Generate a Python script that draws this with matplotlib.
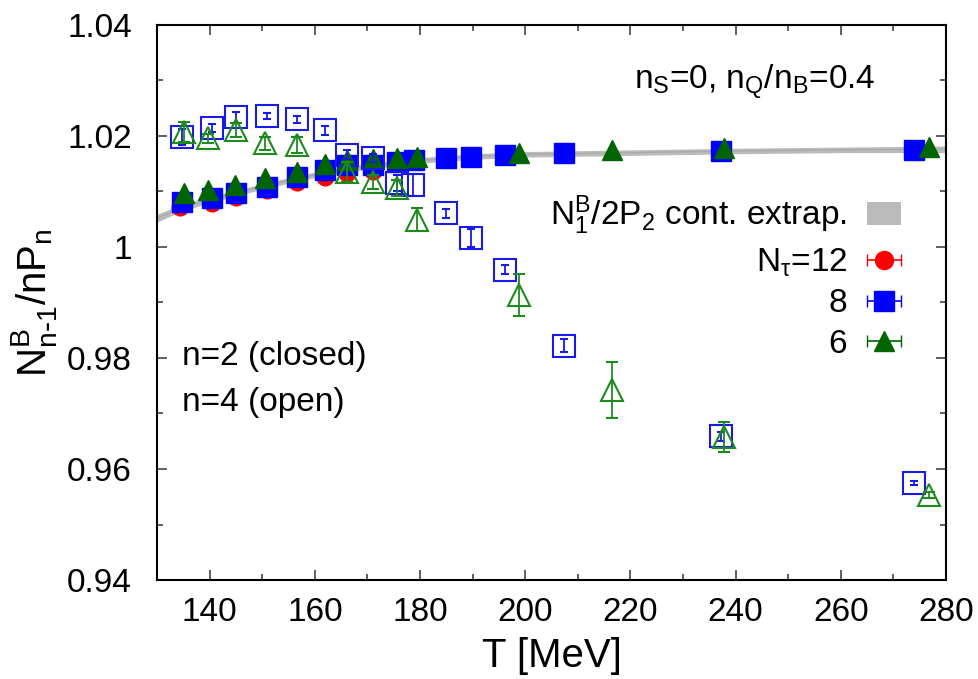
import numpy as np
import matplotlib
matplotlib.use("Agg")
import matplotlib.pyplot as plt
from matplotlib.ticker import MultipleLocator

plt.rcParams['font.family'] = ['Liberation Sans', 'DejaVu Sans']
plt.rcParams['mathtext.default'] = 'regular'

# ---- data ----
# continuum extrapolation band (N1^B / 2P2)
band_T = [130, 135, 140, 145, 150, 155, 160, 165, 170, 175, 180, 190, 200, 220, 240, 260, 280]
band_c = [1.0052, 1.0072, 1.0085, 1.0097, 1.0109, 1.0120, 1.0130, 1.0138, 1.0145, 1.0151, 1.0156,
          1.0163, 1.0167, 1.0170, 1.0173, 1.0175, 1.0176]
band_hw = [0.0007, 0.0006, 0.0006, 0.0005, 0.0005, 0.0005, 0.0005, 0.0005, 0.0005, 0.0005, 0.0005,
           0.0005, 0.0005, 0.0005, 0.0005, 0.0005, 0.0006]

# n=2 (closed symbols)
T12_n2 = [134.4, 140.5, 145.0, 151.0, 156.7, 162.0, 166.2, 171.0]
v12_n2 = [1.0072, 1.0079, 1.0090, 1.0103, 1.0117, 1.0126, 1.0133, 1.0137]

T8_n2 = [134.8, 140.5, 145.0, 151.0, 156.7, 162.0, 166.2, 171.0, 175.7, 178.8,
         184.9, 189.6, 196.1, 207.3, 237.2, 274.0]
v8_n2 = [1.0081, 1.0088, 1.0097, 1.0108, 1.0126, 1.0139, 1.0147, 1.0148, 1.0153, 1.0156,
         1.0160, 1.0163, 1.0166, 1.0169, 1.0173, 1.0175]

T6_n2 = [135.1, 139.7, 144.9, 150.6, 156.7, 162.0, 166.2, 171.0, 175.7, 179.5,
         198.8, 216.5, 237.8, 276.7]
v6_n2 = [1.0097, 1.0103, 1.0112, 1.0124, 1.0135, 1.0149, 1.0157, 1.0158, 1.0160, 1.0162,
         1.0170, 1.0175, 1.0178, 1.0181]

# n=4 (open symbols)
T8_n4 = [134.8, 140.5, 145.0, 151.0, 156.7, 162.0, 166.2, 171.0, 175.7, 178.6,
         184.9, 189.6, 196.1, 207.3, 237.2, 274.0]
v8_n4 = [1.0198, 1.0214, 1.0234, 1.0236, 1.0230, 1.0210, 1.0166, 1.0160, 1.0115, 1.0111,
         1.0061, 1.0016, 0.9959, 0.9822, 0.9659, 0.9575]
e8_n4 = [0.0015, 0.0007, 0.0010, 0.0005, 0.0006, 0.0008, 0.0008, 0.0007, 0.0015, 0.0020,
         0.0008, 0.0016, 0.0008, 0.0012, 0.0008, 0.0004]

T6_n4 = [135.1, 139.7, 145.0, 150.6, 156.7, 166.2, 171.0, 175.7, 179.5,
         198.8, 216.5, 237.8, 276.7]
v6_n4 = [1.0207, 1.0196, 1.0211, 1.0187, 1.0184, 1.0135, 1.0117, 1.0106, 1.0049,
         0.9913, 0.9742, 0.9658, 0.9553]
e6_n4 = [0.0018, 0.0008, 0.0012, 0.0012, 0.0015, 0.0018, 0.0012, 0.0015, 0.0021,
         0.0038, 0.0050, 0.0027, 0.0005]

RED = '#ff0000'
BLUE = '#0000ff'
GREEN = '#006400'
FS = 24

fig = plt.figure(figsize=(9.79, 6.79), dpi=100)
ax = fig.add_axes([0.1604, 0.1458, 0.8059, 0.8174])

# band
bc = np.array(band_c); bh = np.array(band_hw)
band = ax.fill_between(band_T, bc - bh, bc + bh, color='#bbbbbb', lw=0, zorder=1)
ax.plot(band_T, band_c, color='#aaaaaa', lw=1.0, zorder=1.1)

# closed symbols n=2
ax.plot(T12_n2, v12_n2, 'o', ms=12, color=RED, mec=RED, zorder=2)
ax.plot(T8_n2, v8_n2, 's', ms=14, color=BLUE, mec=BLUE, zorder=3)
ax.plot(T6_n2, v6_n2, '^', ms=14, color=GREEN, mec=GREEN, zorder=4)

# open symbols n=4
ax.errorbar(T8_n4, v8_n4, yerr=e8_n4, fmt='s', ms=15.5, mfc='none', mec='#1a1ae6', mew=1.5,
            ecolor='#1a1ae6', elinewidth=1.3, capsize=3, capthick=1.3, zorder=5)
ax.errorbar(T6_n4, v6_n4, yerr=e6_n4, fmt='^', ms=15.5, mfc='none', mec='#1e8a1e', mew=1.5,
            ecolor='#1e8a1e', elinewidth=1.3, capsize=4, capthick=1.3, zorder=6)

# legend proxies (horizontal error bar samples like gnuplot)
h12 = ax.errorbar([np.nan], [np.nan], xerr=[1], fmt='o', ms=13, color=RED, ecolor=RED,
                  capsize=4, elinewidth=1.2)
h8 = ax.errorbar([np.nan], [np.nan], xerr=[1], fmt='s', ms=14, color=BLUE, ecolor=BLUE,
                 capsize=4, elinewidth=1.2)
h6 = ax.errorbar([np.nan], [np.nan], xerr=[1], fmt='^', ms=14, color=GREEN, ecolor=GREEN,
                 capsize=4, elinewidth=1.2)
leg = ax.legend([band, h12, h8, h6],
                ['N$^B_1$/2P$_2$ cont. extrap.', 'N$_τ$=12', '8', '6'],
                loc='upper right', bbox_to_anchor=(0.972, 0.738), markerfirst=False,
                frameon=False, fontsize=FS, handlelength=1.0, handletextpad=0.6,
                labelspacing=0.28, borderpad=0.2)

ax.text(0.91, 0.897, 'n$_S$=0, n$_Q$/n$_B$=0.4', transform=ax.transAxes, ha='right',
        va='center', fontsize=FS)
ax.text(0.032, 0.402, 'n=2 (closed)', transform=ax.transAxes, ha='left', va='center', fontsize=FS)
ax.text(0.032, 0.320, 'n=4 (open)', transform=ax.transAxes, ha='left', va='center', fontsize=FS)

ax.set_xlim(130, 280)
ax.set_ylim(0.94, 1.04)
ax.xaxis.set_major_locator(MultipleLocator(20))
ax.xaxis.set_minor_locator(MultipleLocator(10))
ax.yaxis.set_minor_locator(MultipleLocator(0.01))
ax.set_yticks([0.94, 0.96, 0.98, 1.0, 1.02, 1.04])
ax.set_yticklabels(['0.94', '0.96', '0.98', '1', '1.02', '1.04'])
ax.tick_params(which='both', direction='in', top=True, right=True, width=1.2, color='#444444')
ax.tick_params(which='major', length=7, labelsize=FS)
ax.tick_params(axis='x', which='major', pad=12)
ax.tick_params(axis='y', which='major', pad=18)
ax.tick_params(which='minor', length=4)
for s in ax.spines.values():
    s.set_linewidth(1.5)

ax.set_xlabel('T [MeV]', fontsize=29, labelpad=7)
ax.set_ylabel('N$^B_{n\\text{-}1}$/nP$_n$', fontsize=29, labelpad=6)

fig.savefig('out.png', dpi=100)
